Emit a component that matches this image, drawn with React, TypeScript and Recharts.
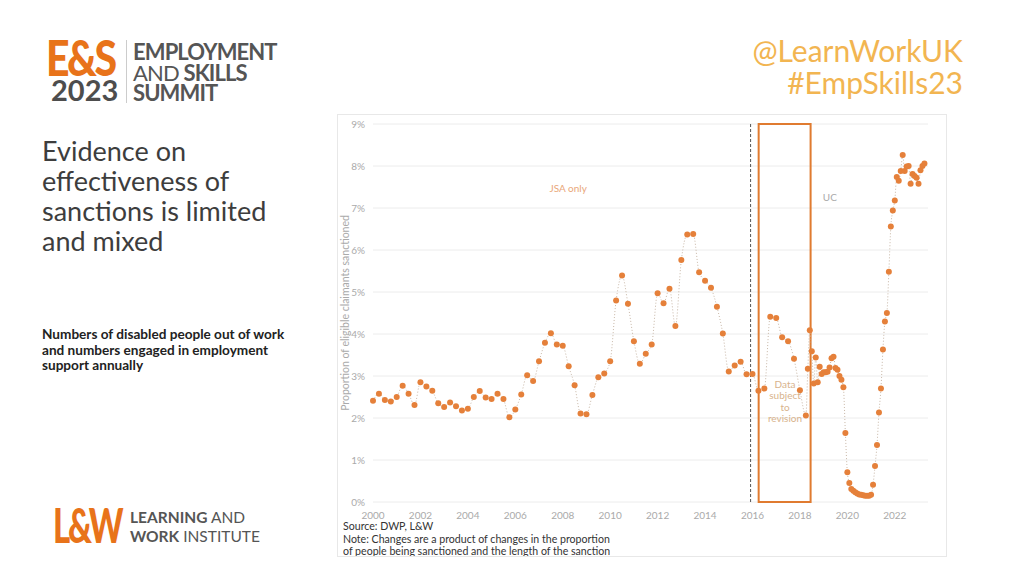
import React from 'react';
import {
  LineChart,
  Line,
  XAxis,
  YAxis,
  CartesianGrid,
  ReferenceLine,
  ReferenceArea,
  ReferenceDot,
} from 'recharts';

// JSA sanction rate, quarterly from 2000 Q1 to 2018 Q2 (%)
const jsaRates = [
  2.41, 2.58, 2.43, 2.39,
  2.5, 2.77, 2.58, 2.31,
  2.85, 2.75, 2.65, 2.35,
  2.26, 2.37, 2.28, 2.18,
  2.22, 2.5, 2.64, 2.49,
  2.45, 2.58, 2.45, 2.02,
  2.2, 2.56, 3.02, 2.88,
  3.35, 3.79, 4.02, 3.75,
  3.72, 3.23, 2.78, 2.11,
  2.09, 2.55, 2.97, 3.06,
  3.35, 4.8, 5.39, 4.72,
  3.83, 3.29, 3.53, 3.75,
  4.97, 4.73, 5.08, 4.19,
  5.76, 6.37, 6.38, 5.47,
  5.27, 5.1, 4.65, 4.01,
  3.11, 3.25, 3.34, 3.04,
  3.05, 2.65, 2.7, 4.41,
  4.38, 3.92, 3.83, 3.41,
  2.66, 2.06,
];

// UC sanction rate, monthly from May 2018 (%)
const ucRates = [
  3.17, 4.09, 3.59, 2.82, 3.44, 2.85, 3.22, 3.05,
  3.09, 3.09, 3.1, 3.2, 3.42, 3.46, 3.19, 3.15, 3.0, 2.91, 2.73, 1.64,
  0.71, 0.45, 0.31, 0.27, 0.23, 0.2, 0.18, 0.17, 0.16, 0.15, 0.15, 0.15,
  0.17, 0.41, 0.86, 1.36, 2.13, 2.7, 3.63, 4.3, 4.5, 5.48, 6.56, 6.94,
  7.18, 7.74, 7.65, 7.88, 8.26, 7.88, 7.99, 8.0, 7.58, 7.81, 7.76, 7.72,
  7.58, 7.9, 8.0, 8.06,
];

const xTicks = [2000, 2002, 2004, 2006, 2008, 2010, 2012, 2014, 2016, 2018, 2020, 2022];
const yTicks = [0, 1, 2, 3, 4, 5, 6, 7, 8, 9];

const ucSwitchYear = 2015.92;
const revisionStart = 2016.26;
const revisionEnd = 2018.45;
const jsaLabelAt = { x: 2008.23, y: 7.47 };
const ucLabelAt = { x: 2019.26, y: 7.26 };

const points = [
  ...jsaRates.map((v, i) => ({ year: 2000 + i / 4, rate: v })),
  ...ucRates.map((v, i) => ({ year: 2018 + 4 / 12 + i / 12, rate: v })),
];

const font = 'Lato, "Open Sans", sans-serif';
const orange = '#E5803A';

export default function App() {
  return (
    <div
      style={{
        position: 'absolute',
        left: 0,
        top: 0,
        width: 1024,
        height: 576,
        background: '#fff',
        fontFamily: font,
        overflow: 'hidden',
      }}
    >
      {/* E&S logo */}
      <div
        style={{
          position: 'absolute',
          left: 46,
          top: 36,
          fontSize: 50,
          fontWeight: 900,
          color: '#E8731A',
          letterSpacing: -3,
          transform: 'scaleX(0.82)',
          transformOrigin: 'left top',
          lineHeight: '42px',
        }}
      >
        E&amp;S
      </div>
      <div
        style={{
          position: 'absolute',
          left: 51,
          top: 77,
          fontSize: 29,
          fontWeight: 700,
          color: '#4d4d4d',
          lineHeight: '26px',
        }}
      >
        2023
      </div>
      <div style={{ position: 'absolute', left: 126, top: 40, width: 1, height: 63, background: '#ccc' }} />
      <div
        style={{
          position: 'absolute',
          left: 133,
          top: 42,
          fontSize: 22,
          color: '#555',
          lineHeight: '20.5px',
          letterSpacing: -0.9,
        }}
      >
        <div style={{ fontWeight: 700 }}>EMPLOYMENT</div>
        <div>
          AND <b>SKILLS</b>
        </div>
        <div style={{ fontWeight: 700 }}>SUMMIT</div>
      </div>

      {/* handles */}
      <div
        style={{
          position: 'absolute',
          right: 1024 - 963,
          top: 34,
          fontSize: 30,
          color: '#F2B551',
          lineHeight: '32px',
          textAlign: 'right',
        }}
      >
        <div>@LearnWorkUK</div>
        <div>#EmpSkills23</div>
      </div>

      {/* title */}
      <div
        style={{
          position: 'absolute',
          left: 42,
          top: 136,
          width: 290,
          fontSize: 27,
          color: '#3d3d3d',
          lineHeight: '30px',
        }}
      >
        Evidence on
        <br />
        effectiveness of
        <br />
        sanctions is limited
        <br />
        and mixed
      </div>

      <div
        style={{
          position: 'absolute',
          left: 42,
          top: 327,
          width: 290,
          fontSize: 13.6,
          fontWeight: 700,
          color: '#222',
          lineHeight: '15.5px',
        }}
      >
        Numbers of disabled people out of work
        <br />
        and numbers engaged in employment
        <br />
        support annually
      </div>

      {/* L&W logo */}
      <div
        style={{
          position: 'absolute',
          left: 53,
          top: 506,
          fontSize: 47,
          fontWeight: 900,
          color: '#E8731A',
          letterSpacing: -3,
          transform: 'scaleX(0.7)',
          transformOrigin: 'left top',
          lineHeight: '38px',
        }}
      >
        L&amp;W
      </div>
      <div
        style={{
          position: 'absolute',
          left: 130,
          top: 508,
          fontSize: 15.5,
          color: '#555',
          lineHeight: '19px',
        }}
      >
        <div>
          <b>LEARNING</b> AND
        </div>
        <div>
          <b>WORK</b> INSTITUTE
        </div>
      </div>

      {/* chart frame */}
      <div
        style={{
          position: 'absolute',
          left: 337,
          top: 114,
          width: 608,
          height: 441,
          border: '1px solid #e8e8e8',
        }}
      />
      <div style={{ position: 'absolute', left: 337, top: 114 }}>
        <LineChart
          width={610}
          height={410}
          data={points}
          margin={{ top: 10, right: 19, left: 0, bottom: 0 }}
        >
          <CartesianGrid vertical={false} stroke="#ececec" />
          <XAxis
            dataKey="year"
            type="number"
            domain={[2000, 2023.4]}
            ticks={xTicks}
            axisLine={false}
            tickLine={false}
            height={22}
            tickMargin={4}
            tick={{ fontSize: 10, fill: '#aaa', fontFamily: font }}
          />
          <YAxis
            domain={[0, 9]}
            ticks={yTicks}
            width={36}
            axisLine={false}
            tickLine={false}
            tickFormatter={(v: number) => `${v}%`}
            tick={{ fontSize: 10, fill: '#aaa', fontFamily: font }}
            label={{
              value: 'Proportion of eligible claimants sanctioned',
              angle: -90,
              position: 'insideLeft',
              offset: 8,
              style: { textAnchor: 'middle', fontSize: 10.5, fill: '#aaa', fontFamily: font },
            }}
          />
          <ReferenceLine x={ucSwitchYear} stroke="#555" strokeDasharray="3 2" />
          <ReferenceArea
            x1={revisionStart}
            x2={revisionEnd}
            y1={0}
            y2={9}
            fill="none"
            stroke="#E07B30"
            strokeWidth={2}
            ifOverflow="visible"
          />
          <ReferenceDot
            x={jsaLabelAt.x}
            y={jsaLabelAt.y}
            r={1}
            fill="none"
            stroke="none"
            label={{ value: 'JSA only', position: 'center', fill: '#E9A77A', fontSize: 10, fontFamily: font }}
          />
          <ReferenceDot
            x={ucLabelAt.x}
            y={ucLabelAt.y}
            r={1}
            fill="none"
            stroke="none"
            label={{ value: 'UC', position: 'center', fill: '#aaa', fontSize: 10, fontFamily: font }}
          />
          <Line
            type="monotone"
            dataKey="rate"
            stroke="#c9b8a8"
            strokeWidth={1}
            strokeDasharray="1 2"
            dot={{ r: 3, fill: orange, stroke: 'none' }}
            activeDot={false}
            isAnimationActive={false}
          />
        </LineChart>
      </div>

      <div
        style={{
          position: 'absolute',
          left: 770,
          top: 379,
          width: 30,
          textAlign: 'center',
          fontSize: 10,
          lineHeight: '11.3px',
          color: '#D8B38C',
          display: 'flex',
          flexDirection: 'column',
          alignItems: 'center',
        }}
      >
        <span>Data</span>
        <span>subject</span>
        <span>to</span>
        <span>revision</span>
      </div>

      <div
        style={{
          position: 'absolute',
          left: 343,
          top: 520,
          fontSize: 10.6,
          color: '#333',
          lineHeight: '12.5px',
          height: 36,
          overflow: 'hidden',
        }}
      >
        <div>Source: DWP, L&amp;W</div>
        <div>Note: Changes are a product of changes in the proportion</div>
        <div>of people being sanctioned and the length of the sanction</div>
      </div>
    </div>
  );
}
